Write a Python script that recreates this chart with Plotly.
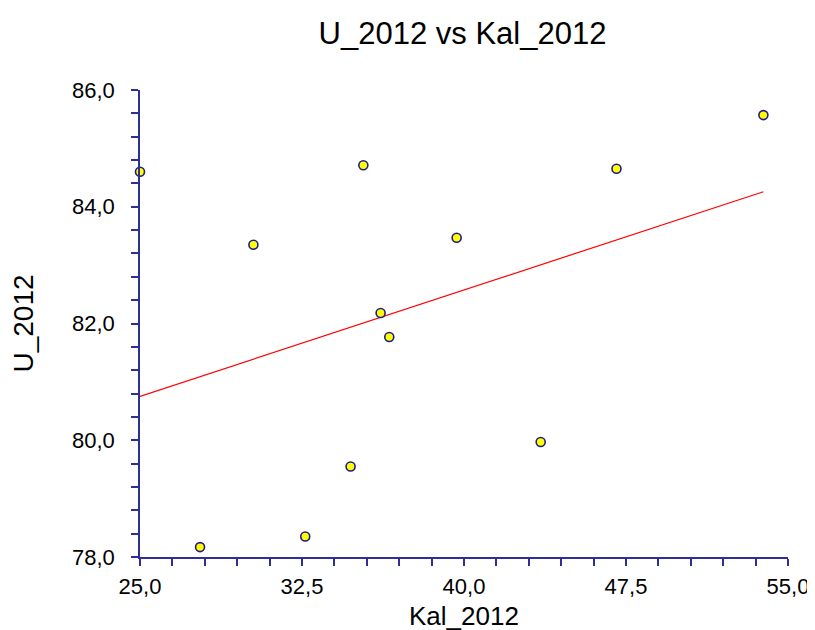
import numpy as np
import plotly.graph_objects as go

kal_2012 = [25.0, 27.78, 30.25, 32.65, 34.75, 35.34, 36.14, 36.54, 39.66, 43.55, 47.06, 53.86]
u_2012 = [84.60, 78.17, 83.35, 78.35, 79.55, 84.71, 82.18, 81.77, 83.47, 79.97, 84.65, 85.57]

x_ticks = [25.0, 32.5, 40.0, 47.5, 55.0]
y_ticks = [78.0, 80.0, 82.0, 84.0, 86.0]

slope, intercept = np.polyfit(kal_2012, u_2012, 1)
fit_x = [min(kal_2012), max(kal_2012)]
fit_y = [intercept + slope * v for v in fit_x]

axis_color = "#2E2E96"
font_family = "Liberation Sans, Arial, sans-serif"

W, H = 807, 622  # page body has an 8px default margin
M_L, M_R, M_T, M_B = 132, 27, 82, 73
plot_h = H - M_T - M_B

fig = go.Figure()
fig.add_trace(go.Scatter(x=fit_x, y=fit_y, mode="lines",
                         line=dict(color="#FF0000", width=1.2),
                         showlegend=False, hoverinfo="skip"))
fig.add_trace(go.Scatter(x=kal_2012, y=u_2012, mode="markers",
                         marker=dict(size=9, color="#FFFF00",
                                     line=dict(color="#1C1C8C", width=1.6)),
                         cliponaxis=False, showlegend=False))

fig.update_layout(
    width=W, height=H,
    margin=dict(l=M_L, r=M_R, t=M_T, b=M_B),
    paper_bgcolor="white", plot_bgcolor="white",
    separators=",.",
    font=dict(family=font_family, color="black"),
    title=dict(text="U_2012 vs Kal_2012", x=454.5 / W, xanchor="center",
               y=1 - 25 / H, yanchor="middle",
               font=dict(size=31, family=font_family, color="black")),
    annotations=[dict(text="Kal_2012", xref="paper", yref="paper",
                      x=0.5, y=-59 / plot_h, xanchor="center", yanchor="middle",
                      showarrow=False, font=dict(size=26, color="black"))],
)
fig.update_xaxes(
    range=[25, 55], showgrid=False, zeroline=False, automargin=False,
    showline=True, linecolor=axis_color, linewidth=1.5,
    tickmode="array", tickvals=x_ticks, tickformat=".1f",
    ticks="outside", ticklen=7, tickwidth=1.5, tickcolor=axis_color,
    minor=dict(dtick=1.5, tick0=25, ticks="outside", ticklen=7, tickwidth=1.5,
               tickcolor=axis_color, showgrid=False),
    tickfont=dict(size=22), ticklabelstandoff=2, ticklabeloverflow="allow",
)
fig.update_yaxes(
    range=[78, 86], showgrid=False, zeroline=False, automargin=False,
    showline=True, linecolor=axis_color, linewidth=1.5,
    tickmode="array", tickvals=y_ticks, tickformat=".1f",
    ticks="outside", ticklen=7, tickwidth=1.5, tickcolor=axis_color,
    minor=dict(dtick=0.4, tick0=78, ticks="outside", ticklen=7, tickwidth=1.5,
               tickcolor=axis_color, showgrid=False),
    tickfont=dict(size=22), ticklabelstandoff=12,
    title=dict(text="U_2012", font=dict(size=28), standoff=30),
)

fig.write_html("out.html")
